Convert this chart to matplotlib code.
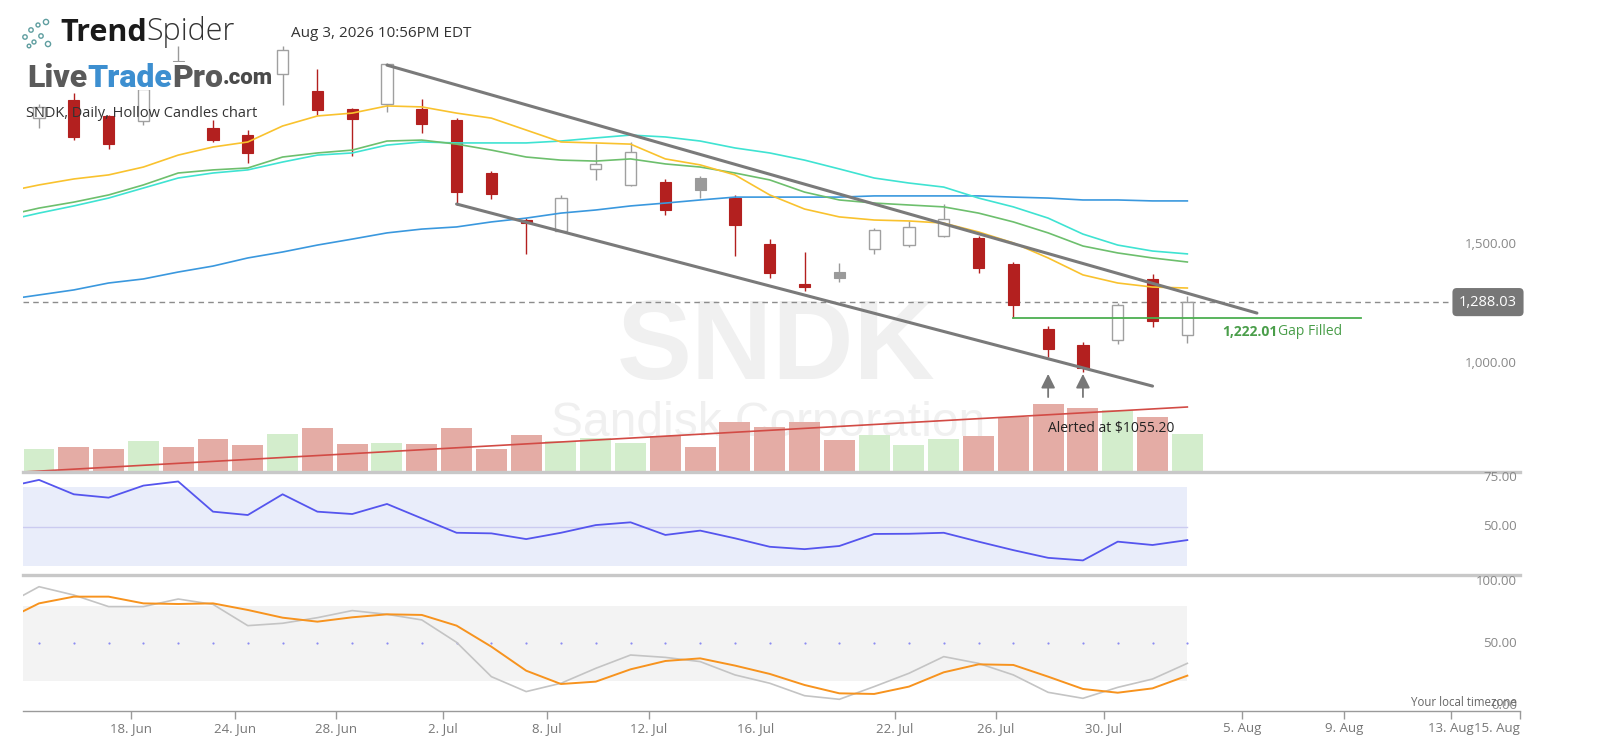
import numpy as np
import matplotlib.pyplot as plt
from matplotlib.patches import Rectangle, Circle

plt.rcParams['font.family'] = ['Open Sans', 'DejaVu Sans']

# ---- daily candles (index 0..33) ----
opens  = [2061, 2135, 2066, 2048, 2300, 2018, 1987, 2244, 2174, 2096, 2118, 2096,
          2053, 1831, 1631, 1587, 1844, 1778, 1792, 1809, 1726, 1531, 1365, 1413,
          1509, 1526, 1565, 1557, 1448, 1174, 1109, 1130, 1383, 1152]
highs  = [2118, 2166, 2074, 2187, 2361, 2053, 2009, 2361, 2266, 2100, 2292, 2139,
          2061, 1839, 1639, 1735, 1952, 1957, 1805, 1818, 1735, 1552, 1500, 1452,
          1600, 1626, 1700, 1565, 1457, 1187, 1122, 1283, 1404, 1313]
lows   = [2018, 1966, 1931, 2031, 2200, 1957, 1870, 2113, 2074, 1900, 2083, 1996,
          1696, 1718, 1491, 1583, 1800, 1774, 1652, 1726, 1483, 1391, 1335, 1374,
          1491, 1517, 1561, 1409, 1222.01, 1056, 995, 1113, 1182, 1117]
closes = [2105, 1979, 1952, 2183, 2230, 1966, 1913, 2344, 2092, 2057, 2287, 2035,
          1748, 1739, 1618, 1726, 1865, 1918, 1674, 1757, 1613, 1409, 1352, 1387,
          1591, 1604, 1635, 1430, 1274, 1091, 1013, 1274, 1209, 1288.03]
volume = [2.3, 2.5, 2.3, 3.1, 2.5, 3.3, 2.7, 3.8, 4.4, 2.8, 2.9, 2.8,
          4.4, 2.3, 3.7, 3.1, 3.4, 2.9, 3.6, 2.5, 5.0, 4.5, 5.0, 3.2,
          3.7, 2.7, 3.3, 3.6, 5.5, 6.8, 6.4, 6.2, 5.5, 3.8]
vol_trend = [0.0, 6.5]          # linear volume trend, left edge -> last bar

# ---- moving averages (index -1..33) ----
ma_yellow = [1749, 1779, 1804, 1821, 1854, 1904, 1938, 1959, 2026, 2068, 2080, 2110,
             2106, 2080, 2059, 2009, 1959, 1955, 1950, 1888, 1863, 1821, 1737, 1678,
             1645, 1632, 1628, 1619, 1582, 1536, 1473, 1402, 1368, 1351, 1347]
ma_green  = [1649, 1682, 1707, 1737, 1779, 1829, 1842, 1850, 1896, 1913, 1925, 1963,
             1967, 1950, 1925, 1896, 1883, 1879, 1888, 1867, 1854, 1829, 1800, 1749,
             1716, 1703, 1695, 1687, 1661, 1624, 1578, 1523, 1494, 1473, 1456]
ma_cyan   = [1628, 1661, 1691, 1724, 1766, 1808, 1829, 1842, 1875, 1904, 1913, 1946,
             1959, 1955, 1955, 1955, 1963, 1976, 1988, 1980, 1963, 1934, 1913, 1883,
             1846, 1808, 1787, 1770, 1724, 1687, 1640, 1573, 1527, 1502, 1490]
ma_blue   = [1297, 1318, 1339, 1368, 1385, 1414, 1439, 1473, 1498, 1527, 1552, 1578,
             1594, 1603, 1624, 1640, 1661, 1674, 1691, 1703, 1716, 1728, 1728, 1728,
             1728, 1733, 1733, 1733, 1733, 1728, 1724, 1716, 1716, 1712, 1712]

# ---- indicators (index -1..33) ----
rsi = [69.8, 73.7, 66.4, 64.7, 70.8, 72.9, 57.6, 55.9, 66.4, 57.6, 56.4, 61.5,
       54.2, 46.9, 46.6, 43.7, 46.9, 50.8, 52.2, 45.8, 48.0, 44.1, 39.8, 38.6,
       40.2, 46.3, 46.4, 46.9, 42.4, 38.1, 34.2, 32.9, 42.4, 40.7, 43.2]
stoch_k = [80.3, 95.5, 88.8, 79.5, 79.5, 85.6, 81.3, 64.2, 66.1, 70.6, 76.3, 73.3,
           68.8, 50.8, 23.2, 11.2, 17.9, 29.9, 40.6, 38.7, 35.3, 24.6, 17.9, 7.9,
           5.0, 15.2, 25.9, 39.3, 33.9, 24.6, 10.6, 5.8, 14.6, 21.3, 33.9]
stoch_d = [68.2, 82.1, 87.5, 87.5, 82.1, 81.6, 82.1, 76.8, 70.6, 67.4, 70.9, 73.3,
           72.8, 64.2, 47.3, 28.0, 17.3, 19.2, 29.1, 35.8, 37.9, 32.1, 25.4, 16.5,
           9.8, 9.3, 15.2, 26.7, 33.1, 32.6, 23.2, 13.3, 10.3, 13.8, 24.0]

# ---- drawings ----
upper_channel = [(10, 2281), (35, 1242)]
lower_channel = [(12, 1699), (32, 936)]
gap_level = 1222.01
gap_span = (28, 38)
alert_idx = [29, 30]
last_price = closes[-1]

tick_pos = [2.64, 5.63, 8.53, 11.61, 14.60, 17.53, 20.60, 24.60, 27.50, 30.60,
            34.57, 37.50, 40.57, 42.56]
tick_labels = ['18. Jun', '24. Jun', '28. Jun', '2. Jul', '8. Jul', '12. Jul', '16. Jul',
               '22. Jul', '26. Jul', '30. Jul', '5. Aug', '9. Aug', '13. Aug', '15. Aug']

RED = '#B3201F'
GRAY = '#9a9a9a'
LABEL = '#888888'

W, H = 1610, 753
fig = plt.figure(figsize=(W / 100, H / 100), dpi=100)


def rect(x0, y0, x1, y1):
    return [x0 / W, (H - y1) / H, (x1 - x0) / W, (y1 - y0) / H]


XL = (-0.46, 42.56)
ax_vol = fig.add_axes(rect(23, 0, 1520, 472), zorder=1)
ax = fig.add_axes(rect(23, 0, 1520, 472), zorder=2)
ax.patch.set_visible(False)
ax_rsi = fig.add_axes(rect(23, 472, 1520, 575), zorder=1)
ax_st = fig.add_axes(rect(23, 575, 1520, 711), zorder=1)

for a in (ax_vol, ax, ax_rsi, ax_st):
    a.set_xlim(*XL)
    for s in a.spines.values():
        s.set_visible(False)
    a.set_yticks([])
    a.set_xticks([])

ax.set_ylim(576, 2554)
ax_vol.set_ylim(0, 47.2)
ax_rsi.set_ylim(25.5, 77.7)
ax_st.set_ylim(-4.4, 104.9)

x = np.arange(len(closes))
xm = np.arange(-1, len(closes))

# watermark
ax_vol.text(0.503, 0.196, 'SNDK', transform=ax_vol.transAxes, ha='center', va='baseline',
            fontsize=81, fontweight='bold', family='Liberation Sans', color='#f0f0f0', zorder=0)
ax_vol.text(0.498, 0.076, 'Sandisk Corporation', transform=ax_vol.transAxes, ha='center',
            va='baseline', fontsize=34.5, family='Liberation Sans', color='#f0f0f0', zorder=0)

# volume
vcol = ['#D3EDCC' if c >= o else '#E4ACA5' for o, c in zip(opens, closes)]
ax_vol.bar(x, volume, width=0.89, color=vcol, zorder=1)
ax_vol.plot([XL[0], x[-1]], vol_trend, color='#D24B45', lw=1.2, zorder=2)

# candles
for i in x:
    o, h, l, c = opens[i], highs[i], lows[i], closes[i]
    prev = closes[i - 1] if i > 0 else o
    col = RED if c < prev else GRAY
    ax.plot([i, i], [l, h], color=col, lw=1.0, zorder=3, solid_capstyle='butt')
    lo, hi = min(o, c), max(o, c)
    if c >= o:
        ax.add_patch(Rectangle((i - 0.16, lo), 0.32, hi - lo, facecolor='white',
                               edgecolor='#a0a0a0', lw=1.0, zorder=4))
    else:
        ax.add_patch(Rectangle((i - 0.16, lo), 0.32, hi - lo, facecolor=col,
                               edgecolor=col, lw=0.8, zorder=4))

# moving averages
ax.plot(xm, ma_blue, color='#3A98DE', lw=1.2, zorder=5)
ax.plot(xm, ma_cyan, color='#3FE3D2', lw=1.2, zorder=5)
ax.plot(xm, ma_green, color='#6DBF6D', lw=1.2, zorder=5)
ax.plot(xm, ma_yellow, color='#F9C22E', lw=1.2, zorder=5)

# channel
for line in (upper_channel, lower_channel):
    ax.plot([line[0][0], line[1][0]], [line[0][1], line[1][1]], color='#7a7a7a', lw=2.2,
            zorder=6, solid_capstyle='round')

# last price line + box
ax.axhline(last_price, xmin=0, xmax=(1450 - 23) / 1497, color='#8c8c8c', lw=1,
           ls=(0, (4, 3)), zorder=2)
ax.annotate(f'{last_price:,.2f}', xy=(1.0, last_price), xycoords=('axes fraction', 'data'),
            xytext=(-32, 0), textcoords='offset pixels', ha='center', va='center',
            color='white', fontsize=10.5, annotation_clip=False,
            bbox=dict(boxstyle='round,pad=0.45,rounding_size=0.3', fc='#777777', ec='none'))

# gap filled
ax.plot(list(gap_span), [gap_level, gap_level], color='#4CAF50', lw=1.3, zorder=5)
g1 = ax.annotate(f'{gap_level:,.2f}', xy=(34.0, gap_level), xytext=(0, -14),
                 textcoords='offset pixels', ha='left', va='center', fontsize=10,
                 fontweight='bold', color='#4a9e4a')
ax.annotate('Gap Filled', xy=(1, 0.5), xycoords=g1, xytext=(1, 0),
            textcoords='offset pixels', ha='left', va='center', fontsize=10,
            color='#4a9e4a')

# alert arrows
for i in alert_idx:
    ax.annotate('', xy=(i, 987), xytext=(i, 890),
                arrowprops=dict(arrowstyle='-|>,head_length=0.6,head_width=0.3',
                                color='#777777', lw=1.3, mutation_scale=14,
                                shrinkA=0, shrinkB=0), zorder=7)
ax.text(alert_idx[0], 760, 'Alerted at $1055.20', ha='left', va='center', fontsize=10,
        color='#222222', zorder=8)

# price labels
for v, t in [(1500, '1,500.00'), (1000, '1,000.00')]:
    ax.annotate(t, xy=(1.0, v), xycoords=('axes fraction', 'data'), xytext=(-3, 7),
                textcoords='offset pixels', ha='right', va='center', fontsize=9.5,
                color=LABEL, annotation_clip=False)

# RSI panel
ax_rsi.fill_between([XL[0], x[-1]], 30, 70, color='#E9EDFA', lw=0)
ax_rsi.plot([XL[0], x[-1]], [50, 50], color='#CBCBF0', lw=1)
ax_rsi.plot(xm, rsi, color='#5555EE', lw=1.3)
ax_rsi.spines['top'].set_visible(True)
ax_rsi.spines['top'].set_color('#C8C8C8')
ax_rsi.spines['top'].set_linewidth(2.4)
for v, t in [(75, '75.00'), (50, '50.00')]:
    ax_rsi.annotate(t, xy=(1.0, v), xycoords=('axes fraction', 'data'), xytext=(-3, 0),
                    textcoords='offset pixels', ha='right', va='center', fontsize=9.5,
                    color=LABEL, annotation_clip=False)

# Stochastic panel
ax_st.fill_between([XL[0], x[-1]], 20, 80, color='#F3F3F3', lw=0)
ax_st.scatter(x, [50] * len(x), s=2.5, color='#8C8CF2', lw=0)
ax_st.plot(xm, stoch_k, color='#C4C4C4', lw=1.2)
ax_st.plot(xm, stoch_d, color='#F7931E', lw=1.4)
ax_st.spines['top'].set_visible(True)
ax_st.spines['top'].set_color('#C8C8C8')
ax_st.spines['top'].set_linewidth(2.4)
ax_st.spines['bottom'].set_visible(True)
ax_st.spines['bottom'].set_color('#9a9a9a')
ax_st.spines['bottom'].set_linewidth(1.0)
for v, t in [(100, '100.00'), (50, '50.00'), (0, '0.00')]:
    ax_st.annotate(t, xy=(1.0, v), xycoords=('axes fraction', 'data'), xytext=(-3, 0),
                   textcoords='offset pixels', ha='right', va='center', fontsize=9.5,
                   color=LABEL, annotation_clip=False)
ax_st.set_xticks(tick_pos)
ax_st.set_xticklabels(tick_labels, fontsize=9.5, color='#777777')
ax_st.tick_params(axis='x', length=5.8, width=1, color='#9a9a9a', pad=2)
ax_st.get_xticklabels()[-1].set_ha('right')

# overlay: header texts and logos (pixel coordinates)
ov = fig.add_axes([0, 0, 1, 1], zorder=10)
ov.patch.set_visible(False)
ov.set_xlim(0, W)
ov.set_ylim(H, 0)
ov.axis('off')

for cx, cy, r in [(25, 37, 2.2), (31, 30, 2.2), (38, 25, 2.0), (46, 22, 2.6),
                  (34, 42, 2.0), (41, 36, 2.2), (48, 44, 2.6), (29, 46, 1.8)]:
    ov.add_patch(Circle((cx, cy), r, fill=False, ec='#5f9ea0', lw=1.0))
t1 = ov.text(60, 33, 'Trend', fontsize=22, fontweight='bold', color='#1a1a1a',
             ha='left', va='center')
ov.annotate('Spider', xy=(1, 0), xycoords=t1, ha='left', va='bottom', fontsize=22,
            fontweight='light', color='#333333')
ov.text(291, 33, 'Aug 3, 2026 10:56PM EDT', fontsize=11, color='#333333',
        ha='left', va='center')

ov.add_patch(Rectangle((24, 62), 250, 28, facecolor='white', edgecolor='none'))
l1 = ov.text(27, 87, 'Live', fontsize=23, fontweight='heavy', family='Roboto',
             color='#5a5a5a', ha='left', va='baseline')
l2 = ov.annotate('Trade', xy=(1, 0), xycoords=l1, ha='left', va='bottom', fontsize=23,
                 fontweight='heavy', family='Roboto', color='#3d8fd0')
l3 = ov.annotate('Pro', xy=(1, 0), xycoords=l2, ha='left', va='bottom', fontsize=23,
                 fontweight='heavy', family='Roboto', color='#5a5a5a')
ov.annotate('.com', xy=(1, 0.12), xycoords=l3, ha='left', va='bottom', fontsize=16,
            fontweight='heavy', family='Roboto', color='#4a4a4a')

ov.text(26, 113, 'SNDK, Daily, Hollow Candles chart', fontsize=10.5, color='#333333',
        ha='left', va='center')
ov.text(1517, 702, 'Your local timezone', fontsize=8.3, color='#666666',
        ha='right', va='center')

fig.savefig('out.png', dpi=100)
